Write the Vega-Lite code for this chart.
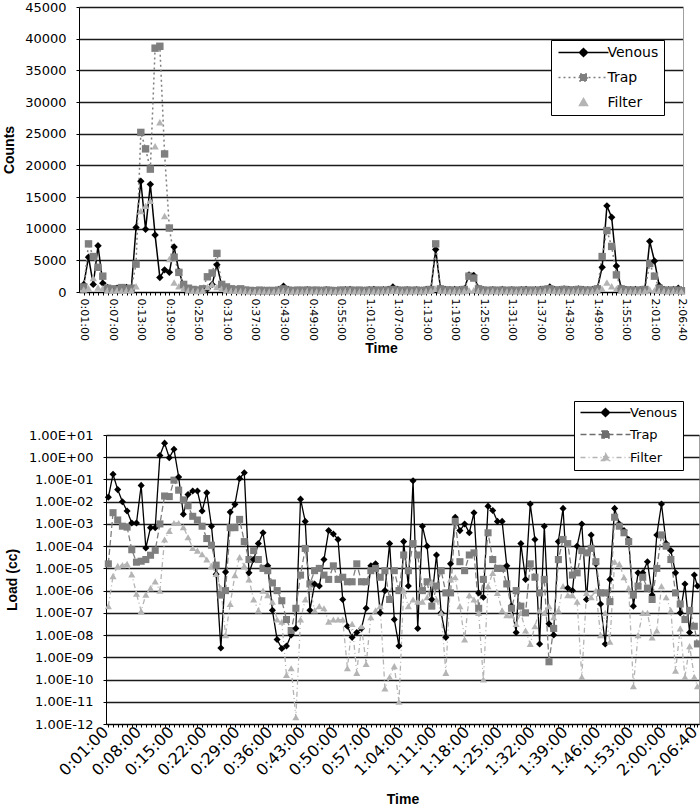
{
"$schema": "https://vega.github.io/schema/vega-lite/v6.json",
"background": "white",
"padding": {"left": 2, "top": 1, "right": 0, "bottom": 0},
"config": {
  "view": {"stroke": "#a0a0a0", "strokeWidth": 1},
  "axis": {"domainColor": "#000", "domainWidth": 1, "tickColor": "#000", "tickSize": 3, "labelColor": "#000", "titleColor": "#000", "labelFont": "DejaVu Sans", "labelFontSize": 13, "titleFont": "Liberation Sans", "titleFontWeight": "bold", "titleFontSize": 14, "gridColor": "#1a1a1a", "gridWidth": 1.5},
  "legend": {"labelFont": "DejaVu Sans", "labelColor": "#000", "strokeColor": "#000", "fillColor": "#fff"}
},
"datasets": {
"counts": [
{"t":1,"Venous":1200,"Trap":800,"Filter":400},
{"t":2,"Venous":5500,"Trap":7600,"Filter":600},
{"t":3,"Venous":1200,"Trap":5600,"Filter":2200},
{"t":4,"Venous":7300,"Trap":3900,"Filter":700},
{"t":5,"Venous":1400,"Trap":2500,"Filter":600},
{"t":6,"Venous":700,"Trap":600,"Filter":300},
{"t":7,"Venous":400,"Trap":500,"Filter":200},
{"t":8,"Venous":600,"Trap":400,"Filter":300},
{"t":9,"Venous":500,"Trap":700,"Filter":200},
{"t":10,"Venous":700,"Trap":500,"Filter":300},
{"t":11,"Venous":600,"Trap":600,"Filter":250},
{"t":12,"Venous":10200,"Trap":4400,"Filter":900},
{"t":13,"Venous":17500,"Trap":25200,"Filter":12800},
{"t":14,"Venous":9900,"Trap":22600,"Filter":13600},
{"t":15,"Venous":17000,"Trap":19400,"Filter":14400},
{"t":16,"Venous":9000,"Trap":38500,"Filter":23000},
{"t":17,"Venous":2300,"Trap":38800,"Filter":26800},
{"t":18,"Venous":3500,"Trap":21800,"Filter":12000},
{"t":19,"Venous":3100,"Trap":10100,"Filter":5200},
{"t":20,"Venous":7100,"Trap":5500,"Filter":1500},
{"t":21,"Venous":3300,"Trap":3100,"Filter":900},
{"t":22,"Venous":1000,"Trap":1200,"Filter":500},
{"t":23,"Venous":500,"Trap":600,"Filter":300},
{"t":24,"Venous":300,"Trap":400,"Filter":200},
{"t":25,"Venous":300,"Trap":300,"Filter":150},
{"t":26,"Venous":400,"Trap":500,"Filter":200},
{"t":27,"Venous":500,"Trap":2400,"Filter":800},
{"t":28,"Venous":1200,"Trap":3000,"Filter":1200},
{"t":29,"Venous":4300,"Trap":6100,"Filter":800},
{"t":30,"Venous":1000,"Trap":1200,"Filter":500},
{"t":31,"Venous":600,"Trap":800,"Filter":300},
{"t":32,"Venous":500,"Trap":500,"Filter":200},
{"t":33,"Venous":400,"Trap":400,"Filter":200},
{"t":34,"Venous":300,"Trap":500,"Filter":150},
{"t":35,"Venous":300,"Trap":300,"Filter":150},
{"t":36,"Venous":200,"Trap":250,"Filter":100},
{"t":37,"Venous":250,"Trap":200,"Filter":100},
{"t":38,"Venous":200,"Trap":300,"Filter":100},
{"t":39,"Venous":300,"Trap":200,"Filter":100},
{"t":40,"Venous":250,"Trap":250,"Filter":100},
{"t":41,"Venous":300,"Trap":200,"Filter":100},
{"t":42,"Venous":400,"Trap":300,"Filter":150},
{"t":43,"Venous":900,"Trap":500,"Filter":200},
{"t":44,"Venous":400,"Trap":300,"Filter":150},
{"t":45,"Venous":300,"Trap":200,"Filter":100},
{"t":46,"Venous":250,"Trap":300,"Filter":100},
{"t":47,"Venous":300,"Trap":250,"Filter":100},
{"t":48,"Venous":350,"Trap":300,"Filter":150},
{"t":49,"Venous":300,"Trap":250,"Filter":100},
{"t":50,"Venous":250,"Trap":300,"Filter":100},
{"t":51,"Venous":300,"Trap":200,"Filter":100},
{"t":52,"Venous":350,"Trap":300,"Filter":150},
{"t":53,"Venous":300,"Trap":250,"Filter":100},
{"t":54,"Venous":250,"Trap":200,"Filter":100},
{"t":55,"Venous":300,"Trap":300,"Filter":100},
{"t":56,"Venous":350,"Trap":250,"Filter":150},
{"t":57,"Venous":400,"Trap":300,"Filter":150},
{"t":58,"Venous":300,"Trap":250,"Filter":100},
{"t":59,"Venous":250,"Trap":300,"Filter":100},
{"t":60,"Venous":300,"Trap":200,"Filter":100},
{"t":61,"Venous":350,"Trap":300,"Filter":150},
{"t":62,"Venous":400,"Trap":250,"Filter":100},
{"t":63,"Venous":300,"Trap":300,"Filter":100},
{"t":64,"Venous":350,"Trap":250,"Filter":150},
{"t":65,"Venous":400,"Trap":300,"Filter":150},
{"t":66,"Venous":800,"Trap":400,"Filter":200},
{"t":67,"Venous":400,"Trap":300,"Filter":150},
{"t":68,"Venous":300,"Trap":250,"Filter":100},
{"t":69,"Venous":350,"Trap":300,"Filter":100},
{"t":70,"Venous":300,"Trap":250,"Filter":100},
{"t":71,"Venous":350,"Trap":300,"Filter":150},
{"t":72,"Venous":300,"Trap":200,"Filter":100},
{"t":73,"Venous":400,"Trap":300,"Filter":150},
{"t":74,"Venous":500,"Trap":400,"Filter":200},
{"t":75,"Venous":6700,"Trap":7600,"Filter":500},
{"t":76,"Venous":600,"Trap":500,"Filter":200},
{"t":77,"Venous":400,"Trap":300,"Filter":150},
{"t":78,"Venous":350,"Trap":300,"Filter":100},
{"t":79,"Venous":400,"Trap":250,"Filter":150},
{"t":80,"Venous":350,"Trap":300,"Filter":100},
{"t":81,"Venous":500,"Trap":400,"Filter":150},
{"t":82,"Venous":2700,"Trap":2500,"Filter":300},
{"t":83,"Venous":2600,"Trap":2200,"Filter":300},
{"t":84,"Venous":600,"Trap":500,"Filter":200},
{"t":85,"Venous":350,"Trap":300,"Filter":100},
{"t":86,"Venous":300,"Trap":250,"Filter":100},
{"t":87,"Venous":350,"Trap":300,"Filter":150},
{"t":88,"Venous":300,"Trap":250,"Filter":100},
{"t":89,"Venous":400,"Trap":300,"Filter":150},
{"t":90,"Venous":300,"Trap":250,"Filter":100},
{"t":91,"Venous":350,"Trap":300,"Filter":100},
{"t":92,"Venous":300,"Trap":250,"Filter":100},
{"t":93,"Venous":350,"Trap":300,"Filter":150},
{"t":94,"Venous":400,"Trap":250,"Filter":100},
{"t":95,"Venous":300,"Trap":300,"Filter":100},
{"t":96,"Venous":350,"Trap":250,"Filter":150},
{"t":97,"Venous":400,"Trap":300,"Filter":100},
{"t":98,"Venous":500,"Trap":400,"Filter":200},
{"t":99,"Venous":800,"Trap":500,"Filter":200},
{"t":100,"Venous":400,"Trap":300,"Filter":150},
{"t":101,"Venous":350,"Trap":300,"Filter":100},
{"t":102,"Venous":500,"Trap":400,"Filter":150},
{"t":103,"Venous":400,"Trap":300,"Filter":100},
{"t":104,"Venous":350,"Trap":300,"Filter":150},
{"t":105,"Venous":500,"Trap":400,"Filter":150},
{"t":106,"Venous":400,"Trap":300,"Filter":100},
{"t":107,"Venous":350,"Trap":250,"Filter":100},
{"t":108,"Venous":400,"Trap":300,"Filter":150},
{"t":109,"Venous":600,"Trap":500,"Filter":200},
{"t":110,"Venous":3900,"Trap":5600,"Filter":500},
{"t":111,"Venous":13600,"Trap":9700,"Filter":1500},
{"t":112,"Venous":11800,"Trap":7200,"Filter":900},
{"t":113,"Venous":4100,"Trap":2700,"Filter":500},
{"t":114,"Venous":600,"Trap":500,"Filter":200},
{"t":115,"Venous":400,"Trap":300,"Filter":150},
{"t":116,"Venous":350,"Trap":300,"Filter":100},
{"t":117,"Venous":400,"Trap":250,"Filter":150},
{"t":118,"Venous":350,"Trap":300,"Filter":100},
{"t":119,"Venous":500,"Trap":400,"Filter":150},
{"t":120,"Venous":8000,"Trap":4500,"Filter":400},
{"t":121,"Venous":4900,"Trap":2500,"Filter":300},
{"t":122,"Venous":1000,"Trap":600,"Filter":200},
{"t":123,"Venous":400,"Trap":300,"Filter":150},
{"t":124,"Venous":350,"Trap":250,"Filter":100},
{"t":125,"Venous":400,"Trap":300,"Filter":150},
{"t":126,"Venous":600,"Trap":300,"Filter":200},
{"t":126.6667,"Venous":300,"Trap":200,"Filter":100}
],
"load": [
{"t":1,"Venous":1.6e-2,"Trap":1.6e-5,"Filter":2e-7},
{"t":2,"Venous":1.7e-1,"Trap":3.2e-3,"Filter":4.5e-6},
{"t":3,"Venous":3.5e-2,"Trap":1.5e-3,"Filter":1.3e-5},
{"t":4,"Venous":1e-2,"Trap":7.9e-4,"Filter":1.4e-5},
{"t":5,"Venous":3.8e-3,"Trap":7.2e-4,"Filter":1.6e-5},
{"t":6,"Venous":1.1e-3,"Trap":6.9e-5,"Filter":5.4e-6},
{"t":7,"Venous":1.1e-3,"Trap":1.9e-5,"Filter":7.2e-7},
{"t":8,"Venous":5.4e-2,"Trap":2.1e-5,"Filter":1.2e-7},
{"t":9,"Venous":8.3e-5,"Trap":2.5e-5,"Filter":6.6e-7},
{"t":10,"Venous":6.8e-4,"Trap":3.9e-5,"Filter":1.3e-6},
{"t":11,"Venous":6.8e-4,"Trap":6.5e-5,"Filter":2.6e-6},
{"t":12,"Venous":1.2,"Trap":1e-3,"Filter":1e-6},
{"t":13,"Venous":4.3,"Trap":1.8e-2,"Filter":2e-4},
{"t":14,"Venous":0.95,"Trap":1.7e-2,"Filter":4.8e-4},
{"t":15,"Venous":2.3,"Trap":9.3e-2,"Filter":1.1e-3},
{"t":16,"Venous":1.3e-1,"Trap":3.3e-2,"Filter":1.1e-3},
{"t":17,"Venous":2.7e-3,"Trap":1.2e-2,"Filter":7.2e-4},
{"t":18,"Venous":2.1e-2,"Trap":6.5e-3,"Filter":2.5e-4},
{"t":19,"Venous":3e-2,"Trap":2.2e-3,"Filter":8.3e-5},
{"t":20,"Venous":3e-2,"Trap":1.5e-3,"Filter":6.3e-5},
{"t":21,"Venous":3.8e-3,"Trap":7.9e-4,"Filter":4.3e-5},
{"t":22,"Venous":2.5e-2,"Trap":2.2e-4,"Filter":2.5e-5},
{"t":23,"Venous":7.9e-4,"Trap":1.1e-4,"Filter":1.3e-5},
{"t":24,"Venous":5.4e-6,"Trap":1.4e-5,"Filter":5.6e-6},
{"t":25,"Venous":2.6e-9,"Trap":6.3e-7,"Filter":1.3e-6},
{"t":26,"Venous":6.8e-6,"Trap":1e-6,"Filter":1e-8},
{"t":27,"Venous":3.4e-3,"Trap":6.8e-4,"Filter":2.5e-7},
{"t":28,"Venous":7.6e-3,"Trap":6.8e-4,"Filter":5e-6},
{"t":29,"Venous":1.1e-1,"Trap":1.6e-3,"Filter":3.2e-5},
{"t":30,"Venous":2e-1,"Trap":1.6e-4,"Filter":1.3e-5},
{"t":31,"Venous":6.3e-6,"Trap":2.5e-5,"Filter":3.2e-6},
{"t":32,"Venous":2.5e-5,"Trap":6.3e-5,"Filter":4e-7},
{"t":33,"Venous":1.3e-4,"Trap":2.5e-5,"Filter":1.3e-7},
{"t":34,"Venous":4e-4,"Trap":1e-5,"Filter":1e-6},
{"t":35,"Venous":1.3e-5,"Trap":7.9e-6,"Filter":6.3e-7},
{"t":36,"Venous":1.3e-7,"Trap":2.2e-6,"Filter":3.2e-7},
{"t":37,"Venous":6.3e-9,"Trap":1e-6,"Filter":5e-8},
{"t":38,"Venous":2.5e-9,"Trap":3.5e-7,"Filter":4e-8},
{"t":39,"Venous":3.2e-9,"Trap":5e-8,"Filter":1.6e-10},
{"t":40,"Venous":1e-8,"Trap":1.6e-8,"Filter":3.2e-10},
{"t":41,"Venous":2e-8,"Trap":1.6e-7,"Filter":2e-12},
{"t":42,"Venous":1.3e-2,"Trap":5e-6,"Filter":5e-8},
{"t":43,"Venous":1.3e-3,"Trap":7.9e-5,"Filter":4e-7},
{"t":44,"Venous":1.3e-7,"Trap":2e-6,"Filter":1.3e-6},
{"t":45,"Venous":2e-6,"Trap":7.9e-6,"Filter":1.3e-7},
{"t":46,"Venous":1.6e-6,"Trap":1e-5,"Filter":2e-7},
{"t":47,"Venous":2.5e-5,"Trap":5e-6,"Filter":1.6e-7},
{"t":48,"Venous":5e-4,"Trap":3.2e-6,"Filter":4e-8},
{"t":49,"Venous":3.5e-4,"Trap":1.3e-5,"Filter":5e-8},
{"t":50,"Venous":2e-4,"Trap":3.2e-6,"Filter":5e-8},
{"t":51,"Venous":4e-7,"Trap":4e-6,"Filter":5e-8},
{"t":52,"Venous":2.5e-8,"Trap":2.5e-6,"Filter":3.2e-10},
{"t":53,"Venous":7.9e-9,"Trap":2.5e-6,"Filter":3.2e-8},
{"t":54,"Venous":1.3e-8,"Trap":1.6e-5,"Filter":2e-10},
{"t":55,"Venous":2e-8,"Trap":2.5e-6,"Filter":2.5e-8},
{"t":56,"Venous":1.6e-7,"Trap":2.5e-6,"Filter":5e-10},
{"t":57,"Venous":1.3e-5,"Trap":7.9e-6,"Filter":6.3e-8},
{"t":58,"Venous":1.6e-5,"Trap":1e-5,"Filter":1.3e-7},
{"t":59,"Venous":1e-7,"Trap":4e-6,"Filter":2e-7},
{"t":60,"Venous":1e-6,"Trap":7.9e-6,"Filter":4e-11},
{"t":61,"Venous":1.3e-4,"Trap":4e-7,"Filter":1.3e-10},
{"t":62,"Venous":5e-8,"Trap":7.9e-6,"Filter":4e-10},
{"t":63,"Venous":3.2e-9,"Trap":1e-6,"Filter":1e-11},
{"t":64,"Venous":1.6e-4,"Trap":4e-5,"Filter":1e-6},
{"t":65,"Venous":1.6e-6,"Trap":7.9e-6,"Filter":2e-7},
{"t":66,"Venous":8.7e-2,"Trap":1.3e-4,"Filter":4e-7},
{"t":67,"Venous":2e-8,"Trap":4e-5,"Filter":3.2e-7},
{"t":68,"Venous":7.9e-4,"Trap":1e-6,"Filter":3.2e-7},
{"t":69,"Venous":1e-4,"Trap":2.5e-6,"Filter":5e-7},
{"t":70,"Venous":4e-7,"Trap":2e-7,"Filter":2.5e-6},
{"t":71,"Venous":4e-5,"Trap":1.6e-6,"Filter":4e-7},
{"t":72,"Venous":1e-7,"Trap":7.9e-6,"Filter":1e-7},
{"t":73,"Venous":7.9e-9,"Trap":7.9e-7,"Filter":2e-10},
{"t":74,"Venous":1.6e-5,"Trap":7.9e-7,"Filter":3.2e-6},
{"t":75,"Venous":2e-3,"Trap":1.3e-3,"Filter":4e-6},
{"t":76,"Venous":5e-4,"Trap":2e-5,"Filter":2e-7},
{"t":77,"Venous":1e-3,"Trap":7.9e-6,"Filter":6.3e-9},
{"t":78,"Venous":4e-4,"Trap":4e-5,"Filter":6.3e-7},
{"t":79,"Venous":3.2e-3,"Trap":5e-5,"Filter":4e-7},
{"t":80,"Venous":7.9e-7,"Trap":1.6e-7,"Filter":1e-7},
{"t":81,"Venous":5e-7,"Trap":3.2e-6,"Filter":1e-10},
{"t":82,"Venous":6.3e-3,"Trap":4e-4,"Filter":1.6e-6},
{"t":83,"Venous":4e-3,"Trap":2.5e-5,"Filter":6.3e-6},
{"t":84,"Venous":1.3e-3,"Trap":1e-5,"Filter":7.9e-7},
{"t":85,"Venous":1.3e-3,"Trap":1e-5,"Filter":1.3e-7},
{"t":86,"Venous":1.3e-5,"Trap":2e-6,"Filter":7.9e-8},
{"t":87,"Venous":2e-7,"Trap":1.6e-7,"Filter":7.9e-8},
{"t":88,"Venous":1.3e-8,"Trap":1e-6,"Filter":3.2e-8},
{"t":89,"Venous":1.3e-4,"Trap":2e-7,"Filter":1e-7},
{"t":90,"Venous":3.2e-6,"Trap":1e-7,"Filter":1.6e-8},
{"t":91,"Venous":7.9e-3,"Trap":1.6e-5,"Filter":4e-9},
{"t":92,"Venous":2e-4,"Trap":4e-6,"Filter":2.5e-8},
{"t":93,"Venous":4e-9,"Trap":7.9e-7,"Filter":1.3e-7},
{"t":94,"Venous":7.9e-4,"Trap":3.2e-6,"Filter":1e-7},
{"t":95,"Venous":3.2e-8,"Trap":6.3e-10,"Filter":2e-7},
{"t":96,"Venous":1e-8,"Trap":2e-8,"Filter":6.3e-8},
{"t":97,"Venous":1.6e-4,"Trap":2.5e-5,"Filter":1.3e-7},
{"t":98,"Venous":5e-3,"Trap":2e-4,"Filter":1.6e-6},
{"t":99,"Venous":1.3e-6,"Trap":1.3e-4,"Filter":6.3e-7},
{"t":100,"Venous":1e-6,"Trap":5e-6,"Filter":6.3e-7},
{"t":101,"Venous":1e-4,"Trap":6.3e-6,"Filter":3.2e-7},
{"t":102,"Venous":1e-3,"Trap":6.3e-5,"Filter":1.3e-10},
{"t":103,"Venous":4e-7,"Trap":5e-5,"Filter":7.9e-7},
{"t":104,"Venous":3.2e-4,"Trap":7.9e-5,"Filter":5e-7},
{"t":105,"Venous":1.6e-5,"Trap":2e-5,"Filter":1e-6},
{"t":106,"Venous":2.5e-7,"Trap":7.9e-7,"Filter":1e-8},
{"t":107,"Venous":4e-9,"Trap":7.9e-7,"Filter":1e-7},
{"t":108,"Venous":3.2e-6,"Trap":3.2e-7,"Filter":5e-9},
{"t":109,"Venous":5e-3,"Trap":2e-3,"Filter":2e-5},
{"t":110,"Venous":1e-3,"Trap":7.9e-4,"Filter":1.6e-5},
{"t":111,"Venous":5e-4,"Trap":4e-4,"Filter":4e-6},
{"t":112,"Venous":2e-4,"Trap":1.6e-4,"Filter":1.3e-6},
{"t":113,"Venous":2e-7,"Trap":6.3e-7,"Filter":5e-11},
{"t":114,"Venous":6.3e-6,"Trap":1.6e-6,"Filter":1e-8},
{"t":115,"Venous":6.3e-6,"Trap":4e-6,"Filter":1e-7},
{"t":116,"Venous":2e-5,"Trap":1.3e-6,"Filter":1e-7},
{"t":117,"Venous":6.3e-7,"Trap":4e-7,"Filter":7.9e-9},
{"t":118,"Venous":3.2e-4,"Trap":1e-5,"Filter":1.6e-8},
{"t":119,"Venous":7.9e-3,"Trap":3.2e-4,"Filter":1.6e-6},
{"t":120,"Venous":1.3e-4,"Trap":1e-4,"Filter":5e-7},
{"t":121,"Venous":6.3e-5,"Trap":2.5e-5,"Filter":1.3e-7},
{"t":122,"Venous":6.3e-6,"Trap":7.9e-7,"Filter":2.5e-10},
{"t":123,"Venous":1e-7,"Trap":2.5e-7,"Filter":2e-8},
{"t":124,"Venous":2e-6,"Trap":5e-8,"Filter":1.3e-10},
{"t":125,"Venous":1.3e-8,"Trap":1.3e-7,"Filter":3.2e-9},
{"t":126,"Venous":5e-6,"Trap":2.5e-8,"Filter":1.3e-10},
{"t":126.6667,"Venous":1.6e-6,"Trap":4e-9,"Filter":5e-11}
]
},
"columns": 1,
"spacing": 44,
"concat": [
{
  "width": 577,
  "height": 285,
  "view": {"stroke": null},
  "data": {"name": "counts"},
  "transform": [{"fold": ["Venous", "Trap", "Filter"], "as": ["series", "value"]}],
  "encoding": {
    "x": {"field": "t", "type": "quantitative", "scale": {"domain": [0, 127], "range": [-27, 577], "nice": false, "zero": false},
      "axis": {"title": "Time", "grid": false, "labelAngle": 90, "labelAlign": "left", "labelBaseline": "middle", "labelPadding": 3, "labelFontSize": 11, "labelOverlap": false, "labelFlush": false, "labelBound": false, "titlePadding": 1,
        "values": [1,2,3,4,5,6,7,8,9,10,11,12,13,14,15,16,17,18,19,20,21,22,23,24,25,26,27,28,29,30,31,32,33,34,35,36,37,38,39,40,41,42,43,44,45,46,47,48,49,50,51,52,53,54,55,56,57,58,59,60,61,62,63,64,65,66,67,68,69,70,71,72,73,74,75,76,77,78,79,80,81,82,83,84,85,86,87,88,89,90,91,92,93,94,95,96,97,98,99,100,101,102,103,104,105,106,107,108,109,110,111,112,113,114,115,116,117,118,119,120,121,122,123,124,125,126,126.6667],
        "labelExpr": "((datum.value - 1) % 6 == 0 && datum.value <= 121) || datum.value > 126.5 ? (floor(datum.value / 60) + ':' + (floor(datum.value % 60) < 10 ? '0' : '') + floor(datum.value % 60) + ':' + (round(datum.value * 60 % 60) < 10 ? '0' : '') + round(datum.value * 60 % 60)) : ''"}}
  },
  "layer": [
    {"transform": [{"filter": "datum.series != 'Filter'"}],
     "mark": {"type": "line", "strokeWidth": 1.5},
     "encoding": {
       "y": {"field": "value", "type": "quantitative", "scale": {"domain": [0, 45000], "nice": false},
         "axis": {"title": "Counts", "orient": "left", "offset": 27, "values": [0,5000,10000,15000,20000,25000,30000,35000,40000,45000], "format": "d", "labelPadding": 10, "titlePadding": 8}},
       "color": {"field": "series", "type": "nominal", "scale": {"domain": ["Venous", "Trap", "Filter"], "range": ["#000000", "#7f7f7f", "#b4b4b4"]}, "legend": null},
       "strokeDash": {"field": "series", "type": "nominal", "scale": {"domain": ["Venous", "Trap"], "range": [[1, 0], [2, 3]]}, "legend": null}}},
    {"mark": {"type": "point", "filled": true, "opacity": 1, "size": 55, "strokeWidth": 0},
     "encoding": {
       "y": {"field": "value", "type": "quantitative", "scale": {"domain": [0, 45000], "nice": false}, "axis": null},
       "color": {"field": "series", "type": "nominal", "scale": {"domain": ["Venous", "Trap", "Filter"], "range": ["#000000", "#7f7f7f", "#b4b4b4"]}, "legend": null},
       "shape": {"field": "series", "type": "nominal", "scale": {"domain": ["Venous", "Trap", "Filter"], "range": ["diamond", "square", "triangle-up"]}, "legend": null}}},
    {"transform": [{"filter": "false"}],
     "mark": {"type": "point", "filled": true, "strokeWidth": 1.5},
     "encoding": {
       "y": {"field": "value", "type": "quantitative", "scale": {"domain": [0, 45000], "nice": false},
         "axis": {"orient": "right", "title": null, "labels": false, "ticks": false, "grid": false, "domainColor": "#a0a0a0", "values": [0, 45000]}},
       "fill": {"field": "series", "type": "nominal", "scale": {"domain": ["Venous", "Trap", "Filter"], "range": ["#000000", "#7f7f7f", "#b4b4b4"]},
         "legend": {"orient": "none", "legendX": 445, "legendY": 33, "title": null, "padding": 5.5, "symbolSize": 100, "symbolStrokeWidth": 1.5, "symbolOpacity": 1, "labelFontSize": 14, "labelOffset": 37, "rowPadding": 11}},
       "stroke": {"field": "series", "type": "nominal", "scale": {"domain": ["Venous", "Trap", "Filter"], "range": ["#000000", "#7f7f7f", "#b4b4b4"]},
         "legend": {"orient": "none", "legendX": 445, "legendY": 33, "title": null, "padding": 5.5, "symbolSize": 100, "symbolStrokeWidth": 1.5, "symbolOpacity": 1, "labelFontSize": 14, "labelOffset": 37, "rowPadding": 11}},
       "shape": {"field": "series", "type": "nominal", "scale": {"domain": ["Venous", "Trap", "Filter"], "range": ["M-1,0H9M4,-0.8L4.8,0L4,0.8L3.2,0Z", "M-1,0H9M3.3,-0.7H4.7V0.7H3.3Z", "M4,-0.8L4.8,0.6H3.2Z"]},
         "legend": {"orient": "none", "legendX": 445, "legendY": 33, "title": null, "padding": 5.5, "symbolSize": 100, "symbolStrokeWidth": 1.5, "symbolOpacity": 1, "labelFontSize": 14, "labelOffset": 37, "rowPadding": 11}},
       "strokeDash": {"field": "series", "type": "nominal", "scale": {"domain": ["Venous", "Trap", "Filter"], "range": [[1, 0], [2, 3], [1, 0]]},
         "legend": {"orient": "none", "legendX": 445, "legendY": 33, "title": null, "padding": 5.5, "symbolSize": 100, "symbolStrokeWidth": 1.5, "symbolOpacity": 1, "labelFontSize": 14, "labelOffset": 37, "rowPadding": 11}}}}
  ],
  "resolve": {"scale": {"fill": "independent", "stroke": "independent", "shape": "independent", "strokeDash": "independent"}, "axis": {"y": "independent"}}
},
{
  "width": 593,
  "height": 289,
  "data": {"name": "load"},
  "transform": [{"fold": ["Venous", "Trap", "Filter"], "as": ["series", "value"]}],
  "encoding": {
    "x": {"field": "t", "type": "quantitative", "scale": {"domain": [0.5, 127], "nice": false, "zero": false},
      "axis": {"title": "Time", "grid": false, "labelAngle": -45, "labelAlign": "right", "labelBaseline": "middle", "labelPadding": 2, "labelOffset": -3, "labelFontSize": 16, "labelOverlap": false, "labelFlush": false, "labelBound": false, "titlePadding": 14,
        "values": [1,2,3,4,5,6,7,8,9,10,11,12,13,14,15,16,17,18,19,20,21,22,23,24,25,26,27,28,29,30,31,32,33,34,35,36,37,38,39,40,41,42,43,44,45,46,47,48,49,50,51,52,53,54,55,56,57,58,59,60,61,62,63,64,65,66,67,68,69,70,71,72,73,74,75,76,77,78,79,80,81,82,83,84,85,86,87,88,89,90,91,92,93,94,95,96,97,98,99,100,101,102,103,104,105,106,107,108,109,110,111,112,113,114,115,116,117,118,119,120,121,122,123,124,125,126,126.6667],
        "labelExpr": "((datum.value - 1) % 7 == 0 && datum.value <= 120) || datum.value > 126.5 ? (floor(datum.value / 60) + ':' + (floor(datum.value % 60) < 10 ? '0' : '') + floor(datum.value % 60) + ':' + (round(datum.value * 60 % 60) < 10 ? '0' : '') + round(datum.value * 60 % 60)) : ''"}},
    "y": {"field": "value", "type": "quantitative", "scale": {"type": "log", "domain": [1e-12, 10], "nice": false},
      "axis": {"title": "Load (cc)", "values": [10, 1, 0.1, 0.01, 0.001, 0.0001, 1e-5, 1e-6, 1e-7, 1e-8, 1e-9, 1e-10, 1e-11, 1e-12], "labelPadding": 10, "titlePadding": 9,
        "labelExpr": "'1.00E' + (round(log(datum.value) / LN10) < 0 ? '-' : '+') + (abs(round(log(datum.value) / LN10)) < 10 ? '0' : '') + abs(round(log(datum.value) / LN10))"}}
  },
  "layer": [
    {"mark": {"type": "line", "strokeWidth": 1.3},
     "encoding": {
       "color": {"field": "series", "type": "nominal", "scale": {"domain": ["Venous", "Trap", "Filter"], "range": ["#000000", "#6e6e6e", "#b4b4b4"]}, "legend": null},
       "strokeDash": {"field": "series", "type": "nominal", "scale": {"domain": ["Venous", "Trap", "Filter"], "range": [[1, 0], [6, 3], [5, 3, 1, 3]]}, "legend": null}}},
    {"mark": {"type": "point", "filled": true, "opacity": 1, "size": 50, "strokeWidth": 0},
     "encoding": {
       "color": {"field": "series", "type": "nominal", "scale": {"domain": ["Venous", "Trap", "Filter"], "range": ["#000000", "#6e6e6e", "#b4b4b4"]}, "legend": null},
       "shape": {"field": "series", "type": "nominal", "scale": {"domain": ["Venous", "Trap", "Filter"], "range": ["diamond", "square", "triangle-up"]}, "legend": null}}},
    {"transform": [{"filter": "false"}],
     "mark": {"type": "point", "filled": true, "strokeWidth": 1.5},
     "encoding": {
       "fill": {"field": "series", "type": "nominal", "scale": {"domain": ["Venous", "Trap", "Filter"], "range": ["#000000", "#6e6e6e", "#b4b4b4"]},
         "legend": {"orient": "none", "legendX": 468, "legendY": -34, "title": null, "padding": 5, "symbolSize": 100, "symbolStrokeWidth": 1.5, "symbolOpacity": 1, "labelFontSize": 13, "labelOffset": 38, "rowPadding": 8}},
       "stroke": {"field": "series", "type": "nominal", "scale": {"domain": ["Venous", "Trap", "Filter"], "range": ["#000000", "#6e6e6e", "#b4b4b4"]},
         "legend": {"orient": "none", "legendX": 468, "legendY": -34, "title": null, "padding": 5, "symbolSize": 100, "symbolStrokeWidth": 1.5, "symbolOpacity": 1, "labelFontSize": 13, "labelOffset": 38, "rowPadding": 8}},
       "shape": {"field": "series", "type": "nominal", "scale": {"domain": ["Venous", "Trap", "Filter"], "range": ["M-1,0H9M4,-0.8L4.8,0L4,0.8L3.2,0Z", "M-1,0H9M3.3,-0.7H4.7V0.7H3.3Z", "M-1,0H9M4,-0.8L4.8,0.6H3.2Z"]},
         "legend": {"orient": "none", "legendX": 468, "legendY": -34, "title": null, "padding": 5, "symbolSize": 100, "symbolStrokeWidth": 1.5, "symbolOpacity": 1, "labelFontSize": 13, "labelOffset": 38, "rowPadding": 8}},
       "strokeDash": {"field": "series", "type": "nominal", "scale": {"domain": ["Venous", "Trap", "Filter"], "range": [[1, 0], [6, 3], [5, 3, 1, 3]]},
         "legend": {"orient": "none", "legendX": 468, "legendY": -34, "title": null, "padding": 5, "symbolSize": 100, "symbolStrokeWidth": 1.5, "symbolOpacity": 1, "labelFontSize": 13, "labelOffset": 38, "rowPadding": 8}}}}
  ],
  "resolve": {"scale": {"fill": "independent", "stroke": "independent", "shape": "independent", "strokeDash": "independent"}}
}
]
}
